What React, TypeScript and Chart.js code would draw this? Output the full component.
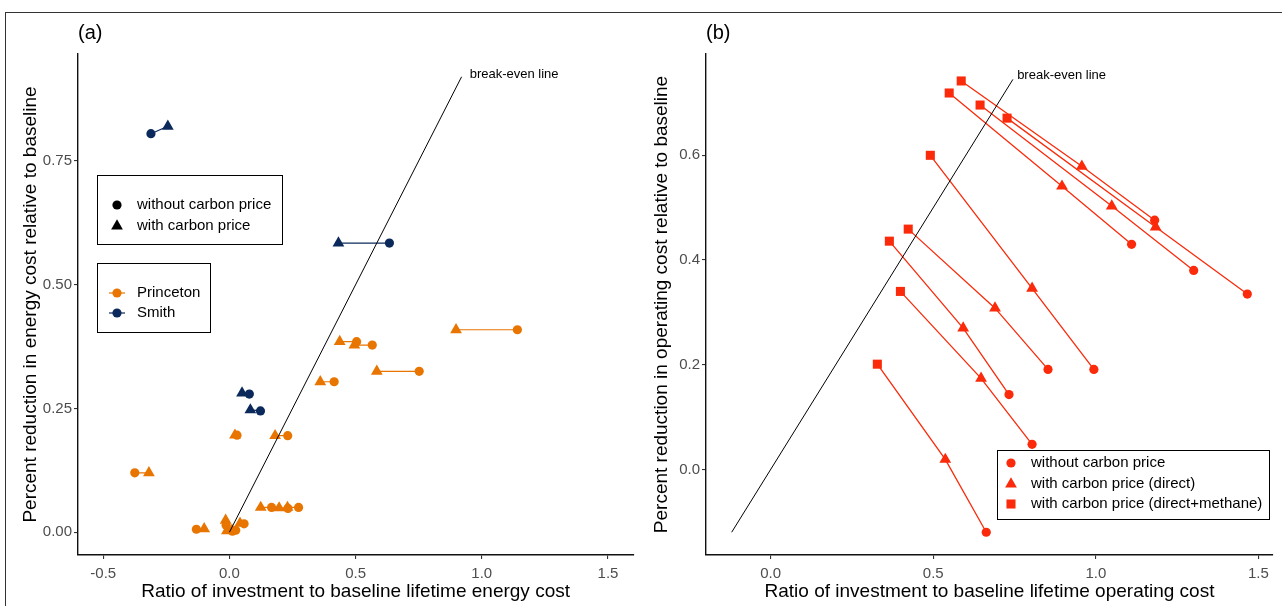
import React, { useEffect, useRef } from 'react';
import { Chart, registerables } from 'chart.js';
Chart.register(...registerables);

const FONT = '"Liberation Sans", Arial, Helvetica, sans-serif';
const ORANGE = '#E87500';
const NAVY = '#0B2A5B';
const RED = '#FA2A0A';

// ---------- Panel (a) ----------
const aXTicks = [-0.5, 0, 0.5, 1, 1.5];
const aXTickLabels = ['-0.5', '0.0', '0.5', '1.0', '1.5'];
const aYTicks = [0, 0.25, 0.5, 0.75];
const aYTickLabels = ['0.00', '0.25', '0.50', '0.75'];

const princetonWithX = [0.898, 0.437, 0.495, 0.584, 0.36, 0.181, 0.022, -0.319, 0.124, 0.197, 0.23, -0.1, -0.015, -0.01, 0.01, 0.042];
const princetonWithY = [0.409, 0.385, 0.378, 0.325, 0.304, 0.195, 0.196, 0.12, 0.05, 0.049, 0.05, 0.007, 0.024, 0.003, 0.004, 0.018];
const princetonWithoutX = [1.141, 0.504, 0.566, 0.752, 0.415, 0.231, 0.03, -0.375, 0.167, 0.232, 0.274, -0.131, -0.013, 0.012, 0.025, 0.058];
const princetonWithoutY = [0.409, 0.385, 0.378, 0.325, 0.304, 0.195, 0.196, 0.12, 0.05, 0.048, 0.05, 0.006, 0.014, 0.002, 0.004, 0.017];

const smithWithX = [-0.244, 0.432, 0.05, 0.083];
const smithWithY = [0.82, 0.584, 0.281, 0.247];
const smithWithoutX = [-0.311, 0.634, 0.079, 0.123];
const smithWithoutY = [0.805, 0.584, 0.279, 0.245];

const breakEvenA = [0, 0.92];
const breakEvenLabelA = { x: 0.952, y: 0.925 };

// ---------- Panel (b) ----------
const bXTicks = [0, 0.5, 1, 1.5];
const bXTickLabels = ['0.0', '0.5', '1.0', '1.5'];
const bYTicks = [0, 0.2, 0.4, 0.6];
const bYTickLabels = ['0.0', '0.2', '0.4', '0.6'];

const methaneX = [0.586, 0.549, 0.644, 0.727, 0.491, 0.423, 0.365, 0.399, 0.328];
const methaneY = [0.742, 0.719, 0.696, 0.671, 0.6, 0.459, 0.436, 0.34, 0.201];
const directX = [0.957, 0.896, 1.049, 1.184, 0.804, 0.69, 0.592, 0.647, 0.537];
const directY = [0.579, 0.541, 0.503, 0.463, 0.346, 0.308, 0.27, 0.174, 0.019];
const noneX = [1.181, 1.11, 1.301, 1.466, 0.994, 0.853, 0.733, 0.804, 0.663];
const noneY = [0.476, 0.43, 0.38, 0.335, 0.191, 0.191, 0.143, 0.048, -0.12];

const breakEvenB = [-0.12, 0.745];
const breakEvenLabelB = { x: 0.758, y: 0.752 };

const TRI_R = 6.8;
const CIRC_R = 4.6;
const RECT_R = 6.4;

function pairSets(wx: number[], wy: number[], ox: number[], oy: number[], color: string) {
  return wx.map((_, i) => ({
    data: [{ x: wx[i], y: wy[i] }, { x: ox[i], y: oy[i] }],
    showLine: true,
    borderColor: color,
    borderWidth: 1.2,
    pointStyle: ['triangle', 'circle'],
    pointRadius: [TRI_R, CIRC_R],
    pointBackgroundColor: color,
    pointBorderColor: color,
    pointBorderWidth: 0,
  }));
}

function tripleSets() {
  return methaneX.map((_, i) => ({
    data: [
      { x: methaneX[i], y: methaneY[i] },
      { x: directX[i], y: directY[i] },
      { x: noneX[i], y: noneY[i] },
    ],
    showLine: true,
    borderColor: RED,
    borderWidth: 1.3,
    pointStyle: ['rect', 'triangle', 'circle'],
    pointRadius: [RECT_R, TRI_R, CIRC_R],
    pointBackgroundColor: RED,
    pointBorderColor: RED,
    pointBorderWidth: 0,
  }));
}

function lineSet(range: number[]) {
  return {
    data: [{ x: range[0], y: range[0] }, { x: range[1], y: range[1] }],
    showLine: true,
    borderColor: '#000',
    borderWidth: 1,
    pointRadius: 0,
  };
}

function axis(opts: any) {
  const { min, max, ticks, labels, title, size, titlePad, labelPad } = opts;
  return {
    type: 'linear',
    min,
    max,
    afterBuildTicks: (s: any) => {
      s.ticks = ticks.map((v: number) => ({ value: v }));
    },
    afterFit: (s: any) => {
      if (s.isHorizontal()) s.height = size;
      else s.width = size;
    },
    ticks: {
      callback: (_v: any, i: number) => labels[i],
      color: '#4d4d4d',
      font: { family: FONT, size: 15 },
      padding: labelPad,
      autoSkip: false,
      maxRotation: 0,
    },
    grid: {
      display: true,
      drawOnChartArea: false,
      drawTicks: true,
      tickLength: 4,
      color: '#333',
      lineWidth: 1.1,
    },
    border: { display: true, color: '#111', width: 1.4 },
    title: {
      display: true,
      text: title,
      color: '#000',
      font: { family: FONT, size: 19 },
      padding: titlePad,
    },
  };
}

function marker(ctx: CanvasRenderingContext2D, style: string, x: number, y: number, color: string) {
  ctx.fillStyle = color;
  ctx.beginPath();
  if (style === 'circle') {
    ctx.arc(x, y, CIRC_R, 0, Math.PI * 2);
  } else if (style === 'triangle') {
    for (let k = 0; k < 3; k++) {
      const a = (k * 2 * Math.PI) / 3;
      const px = x + Math.sin(a) * TRI_R;
      const py = y - Math.cos(a) * TRI_R;
      if (k === 0) ctx.moveTo(px, py);
      else ctx.lineTo(px, py);
    }
    ctx.closePath();
  } else {
    const h = RECT_R * Math.SQRT1_2;
    ctx.rect(x - h, y - h, 2 * h, 2 * h);
  }
  ctx.fill();
}

function annotPlugin(panel: string, label: { x: number; y: number }, legend: (ctx: CanvasRenderingContext2D) => void) {
  return {
    id: 'annot' + panel,
    afterDraw(chart: any) {
      const ctx = chart.ctx as CanvasRenderingContext2D;
      const xs = chart.scales.x;
      const ys = chart.scales.y;
      ctx.save();
      ctx.fillStyle = '#000';
      ctx.textBaseline = 'middle';
      ctx.textAlign = 'left';
      ctx.font = `20px ${FONT}`;
      ctx.fillText(panel, chart.chartArea.left, 33);
      ctx.font = `13px ${FONT}`;
      ctx.fillText('break-even line', xs.getPixelForValue(label.x), ys.getPixelForValue(label.y));
      legend(ctx);
      ctx.restore();
    },
  };
}

function legendA(ctx: CanvasRenderingContext2D) {
  ctx.strokeStyle = '#000';
  ctx.lineWidth = 1;
  ctx.strokeRect(97.5, 175.5, 185, 69);
  ctx.strokeRect(97.5, 263.5, 113, 69);
  ctx.font = `15px ${FONT}`;
  ctx.textBaseline = 'middle';
  marker(ctx, 'circle', 117, 205, '#000');
  marker(ctx, 'triangle', 117, 226, '#000');
  ctx.fillStyle = '#000';
  ctx.fillText('without carbon price', 137, 205);
  ctx.fillText('with carbon price', 137, 226);
  const rows: [string, string, number][] = [
    ['Princeton', ORANGE, 293],
    ['Smith', NAVY, 313],
  ];
  rows.forEach(([name, color, y]) => {
    ctx.strokeStyle = color;
    ctx.lineWidth = 1.2;
    ctx.beginPath();
    ctx.moveTo(109, y);
    ctx.lineTo(125, y);
    ctx.stroke();
    marker(ctx, 'circle', 117, y, color);
    ctx.fillStyle = '#000';
    ctx.fillText(name, 137, y);
  });
}

function legendB(ctx: CanvasRenderingContext2D) {
  ctx.strokeStyle = '#000';
  ctx.lineWidth = 1;
  ctx.strokeRect(357.5, 450.5, 272, 69);
  ctx.font = `15px ${FONT}`;
  ctx.textBaseline = 'middle';
  const rows: [string, string, number][] = [
    ['circle', 'without carbon price', 463],
    ['triangle', 'with carbon price (direct)', 484],
    ['rect', 'with carbon price (direct+methane)', 504],
  ];
  rows.forEach(([st, txt, y]) => {
    marker(ctx, st, 371, y, RED);
    ctx.fillStyle = '#000';
    ctx.fillText(txt, 391, y);
  });
}

function baseOptions(padRight: number, scales: any) {
  return {
    animation: false,
    responsive: false,
    devicePixelRatio: 1,
    layout: { padding: { left: 0, right: padRight, top: 54, bottom: 0 } },
    plugins: { legend: { display: false }, tooltip: { enabled: false } },
    events: [],
    scales,
  };
}

export default function App() {
  const refA = useRef<HTMLCanvasElement>(null);
  const refB = useRef<HTMLCanvasElement>(null);

  useEffect(() => {
    const chartA = new Chart(refA.current as HTMLCanvasElement, {
      type: 'scatter',
      data: {
        datasets: [
          lineSet(breakEvenA),
          ...pairSets(smithWithX, smithWithY, smithWithoutX, smithWithoutY, NAVY),
          ...pairSets(princetonWithX, princetonWithY, princetonWithoutX, princetonWithoutY, ORANGE),
        ] as any,
      },
      options: baseOptions(4, {
        x: axis({ min: -0.6, max: 1.6, ticks: aXTicks, labels: aXTickLabels, title: 'Ratio of investment to baseline lifetime energy cost', size: 51, titlePad: { top: 0, bottom: 3 }, labelPad: 6 }),
        y: axis({ min: -0.046, max: 0.966, ticks: aYTicks, labels: aYTickLabels, title: 'Percent reduction in energy cost relative to baseline', size: 78, titlePad: { top: 19.2, bottom: 0 }, labelPad: 2 }),
      }) as any,
      plugins: [annotPlugin('(a)', breakEvenLabelA, legendA)],
    });
    const chartB = new Chart(refB.current as HTMLCanvasElement, {
      type: 'scatter',
      data: {
        datasets: [lineSet(breakEvenB), ...tripleSets()] as any,
      },
      options: baseOptions(9, {
        x: axis({ min: -0.199, max: 1.545, ticks: bXTicks, labels: bXTickLabels, title: 'Ratio of investment to baseline lifetime operating cost', size: 51, titlePad: { top: 0, bottom: 3 }, labelPad: 6 }),
        y: axis({ min: -0.1635, max: 0.7935, ticks: bYTicks, labels: bYTickLabels, title: 'Percent reduction in operating cost relative to baseline', size: 66, titlePad: { top: 10.6, bottom: 0 }, labelPad: 2 }),
      }) as any,
      plugins: [annotPlugin('(b)', breakEvenLabelB, legendB)],
    });
    return () => {
      chartA.destroy();
      chartB.destroy();
    };
  }, []);

  return (
    <div style={{ position: 'fixed', left: 0, top: 0, width: 1282, height: 606, overflow: 'hidden', background: '#fff' }}>
      <canvas ref={refA} width={640} height={606} style={{ position: 'absolute', left: 0, top: 0 }} />
      <canvas ref={refB} width={642} height={606} style={{ position: 'absolute', left: 640, top: 0 }} />
      <div style={{ position: 'absolute', left: 5, top: 12, width: 1400, height: 800, border: '1.5px solid #333', pointerEvents: 'none' }} />
    </div>
  );
}
